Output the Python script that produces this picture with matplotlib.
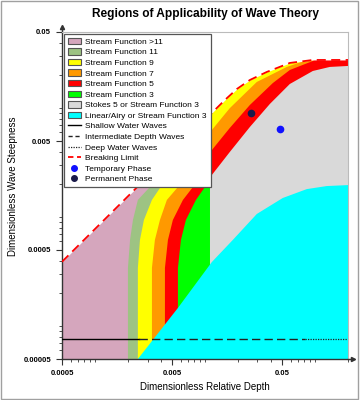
import numpy as np
import matplotlib.pyplot as plt
from matplotlib.patches import Patch, Polygon, Rectangle
from matplotlib.lines import Line2D
from matplotlib.ticker import LogLocator, NullFormatter

plt.rcParams['font.family'] = ['Liberation Sans', 'DejaVu Sans']

# axis range (relative depth d/gT^2, wave steepness H/gT^2)
x_range = [0.0005, 0.2]
y_range = [0.00005, 0.05]
x_ticks = [0.0005, 0.005, 0.05]
x_tick_labels = ['0.0005', '0.005', '0.05']
y_ticks = [0.00005, 0.0005, 0.005, 0.05]
y_tick_labels = ['0.00005', '0.0005', '0.005', '0.05']

# breaking limit
break_x = [0.0005, 0.01517, 0.0195, 0.0256, 0.0365, 0.0591, 0.0957, 0.2]
break_y = [0.00039, 0.01189, 0.0150, 0.01814, 0.0215, 0.026, 0.0277, 0.0277]

# left edges of the stream function bands (bottom to top)
sf11_x = [0.00199, 0.00199, 0.00208, 0.00221, 0.00245, 0.00315, 0.0048, 0.00729, 0.00998, 0.0123]
sf11_y = [5e-5, 0.000342, 0.000618, 0.000942, 0.00144, 0.00189, 0.00314, 0.00533, 0.00866, 0.0132]
sf9_x = [0.00245, 0.00245, 0.00256, 0.00278, 0.00329, 0.00389, 0.00533, 0.00729, 0.00899, 0.0111, 0.01366]
sf9_y = [5e-5, 0.000342, 0.000618, 0.000942, 0.00144, 0.00185, 0.00271, 0.00413, 0.00631, 0.00923, 0.0132]
sf7_x = [0.00329, 0.00329, 0.0035, 0.00389, 0.0045, 0.00567, 0.0081, 0.01155, 0.0168, 0.0296, 0.0555, 0.0844, 0.1107]
sf7_y = [5e-5, 0.000342, 0.000618, 0.000942, 0.00144, 0.00189, 0.00335, 0.00631, 0.01, 0.0174, 0.0239, 0.0277, 0.0342]
sf5_x = [0.00432, 0.00432, 0.0046, 0.0051, 0.0063, 0.00776, 0.01155, 0.0168, 0.0256, 0.0414, 0.0591, 0.0957, 0.1366]
sf5_y = [5e-5, 0.000342, 0.000618, 0.000942, 0.00144, 0.00189, 0.00413, 0.00658, 0.0107, 0.017, 0.0224, 0.0271, 0.0342]

# closed regions
sf3_x = [0.00567, 0.00567, 0.00604, 0.0067, 0.00827, 0.00998, 0.0106, 0.0113, 0.0113]
sf3_y = [5e-5, 0.000342, 0.000618, 0.000942, 0.00144, 0.00189, 0.0022, 0.0022, 5e-5]
stokes_x = [0.0111, 0.0111, 0.01155, 0.0168, 0.0256, 0.0389, 0.0591, 0.0957, 0.1366, 0.2, 0.2]
stokes_y = [5e-5, 0.0022, 0.00244, 0.00396, 0.00672, 0.01093, 0.01667, 0.02194, 0.0239, 0.0244, 5e-5]
linear_x = [0.00245, 0.00567, 0.01155, 0.0179, 0.0296, 0.051, 0.0844, 0.128, 0.2, 0.2]
linear_y = [5e-5, 0.000147, 0.000388, 0.000618, 0.00107, 0.0015, 0.00181, 0.00193, 0.00197, 5e-5]

# water depth classes
depth_level = 7.6e-5
shallow_x = [0.0005, 0.0025]
intermediate_x = [0.0025, 0.081]
deep_x = [0.081, 0.2]

# observed points
temporary_pt = (0.048, 0.00644)
permanent_pt = (0.0261, 0.00904)

labels = ['Stream Function >11', 'Stream Function 11', 'Stream Function 9',
          'Stream Function 7', 'Stream Function 5', 'Stream Function 3',
          'Stokes 5 or Stream Function 3', 'Linear/Airy or Stream Function 3',
          'Shallow Water Waves', 'Intermediate Depth Waves', 'Deep Water Waves',
          'Breaking Limit', 'Temporary Phase', 'Permanent Phase']
colors = ['#D5A6BD', '#9DC383', '#FFFF00', '#FF9900', '#FF0000', '#00FF00',
          '#D9D9D9', '#00FFFF']

fig = plt.figure(figsize=(3.61, 4.0), dpi=100)
ax = fig.add_axes([62 / 361, 1 - 359 / 400, 286 / 361, 327 / 400])
ax.set_xscale('log')
ax.set_yscale('log')
ax.set_xlim(x_range)
ax.set_ylim(y_range)

x0, x1 = x_range
y0, y1 = y_range


def add_band(xs, ys, color):
    verts = list(zip(xs, ys)) + [(x1, y1), (x1, y0)]
    ax.add_patch(Polygon(verts, closed=True, fc=color, ec='none', zorder=1))


def add_region(xs, ys, color):
    ax.add_patch(Polygon(list(zip(xs, ys)), closed=True, fc=color, ec='none', zorder=1))


add_region([x0, x0, x1, x1], [y0, y1, y1, y0], colors[0])
add_band(sf11_x, sf11_y, colors[1])
add_band(sf9_x, sf9_y, colors[2])
add_band(sf7_x, sf7_y, colors[3])
add_band(sf5_x, sf5_y, colors[4])
add_region(sf3_x, sf3_y, colors[5])
add_region(stokes_x, stokes_y, colors[6])
add_region(linear_x, linear_y, colors[7])

# nothing above the breaking limit
ax.fill_between(break_x, break_y, y1, color='white', lw=0, zorder=2)
ax.plot(break_x, break_y, color='#FF0000', lw=1.3, dashes=(5, 3), zorder=3)

ax.plot(shallow_x, [depth_level] * 2, color='black', lw=1.0, zorder=3)
ax.plot(intermediate_x, [depth_level] * 2, color='#222222', lw=1.0, dashes=(6, 3), zorder=3)
ax.plot(deep_x, [depth_level] * 2, color='#222222', lw=0.9, dashes=(1, 1), zorder=3)

ax.plot(*temporary_pt, 'o', color='#1010FF', ms=4.5, zorder=4)
ax.plot(*permanent_pt, 'o', color='#1A1A4A', ms=4.5, zorder=4)

# ticks
ax.set_xticks(x_ticks)
ax.set_xticklabels(x_tick_labels)
ax.set_yticks(y_ticks)
ax.set_yticklabels(y_tick_labels)
for axis in (ax.xaxis, ax.yaxis):
    axis.set_minor_locator(LogLocator(base=10, subs=np.arange(1, 10)))
    axis.set_minor_formatter(NullFormatter())
ax.tick_params(which='major', length=4, width=0.8, color='#333333', labelsize=5.5, pad=4)
ax.tick_params(which='minor', length=2.5, width=0.6, color='#333333')
for lab in ax.get_xticklabels() + ax.get_yticklabels():
    lab.set_fontweight('bold')

for s in ('left', 'bottom'):
    ax.spines[s].set_color('#333333')
    ax.spines[s].set_linewidth(1.0)
for s in ('top', 'right'):
    ax.spines[s].set_color('#BBBBBB')
    ax.spines[s].set_linewidth(0.8)

# axis arrows
ax.plot([0, 0], [1, 1.016], color='#333333', lw=1, transform=ax.transAxes, clip_on=False)
ax.plot([0], [1.016], marker='^', ms=3, color='#333333', transform=ax.transAxes, clip_on=False)
ax.plot([1, 1.017], [0, 0], color='#333333', lw=1, transform=ax.transAxes, clip_on=False)
ax.plot([1.017], [0], marker='>', ms=3, color='#333333', transform=ax.transAxes, clip_on=False)

# legend
handles = [Patch(fc=c, ec='#555555', lw=0.8) for c in colors]
handles += [Line2D([], [], color='black', lw=1.0),
            Line2D([], [], color='#222222', lw=1.0, dashes=(3, 2)),
            Line2D([], [], color='#222222', lw=0.9, dashes=(1, 1)),
            Line2D([], [], color='#FF0000', lw=1.3, dashes=(3, 2)),
            Line2D([], [], ls='none', marker='o', color='#1010FF', ms=4),
            Line2D([], [], ls='none', marker='o', color='#1A1A4A', ms=4)]
leg = ax.legend(handles, labels, loc='upper left', bbox_to_anchor=(0.007, 0.994),
                fontsize=6, frameon=True, fancybox=False, edgecolor='#555555',
                framealpha=1, borderaxespad=0, handlelength=1.6, handleheight=0.8,
                handletextpad=0.5, labelspacing=0.3, borderpad=0.45)
leg.get_frame().set_linewidth(0.9)
leg.set_zorder(5)

fig.text(205 / 361, 1 - 14 / 400, 'Regions of Applicability of Wave Theory',
         ha='center', va='center', fontsize=8.6, fontweight='bold')
fig.text(205 / 361, 1 - 387 / 400, 'Dimensionless Relative Depth',
         ha='center', va='center', fontsize=7)
fig.text(13 / 361, 1 - 186 / 400, 'Dimensionless Wave Steepness',
         ha='center', va='center', fontsize=7, rotation=90)

fig.patches.append(Rectangle((0.003, 0.003), 0.988, 0.994, transform=fig.transFigure,
                             fill=False, ec='#A0A0A0', lw=1))

fig.savefig('out.png', dpi=100)
